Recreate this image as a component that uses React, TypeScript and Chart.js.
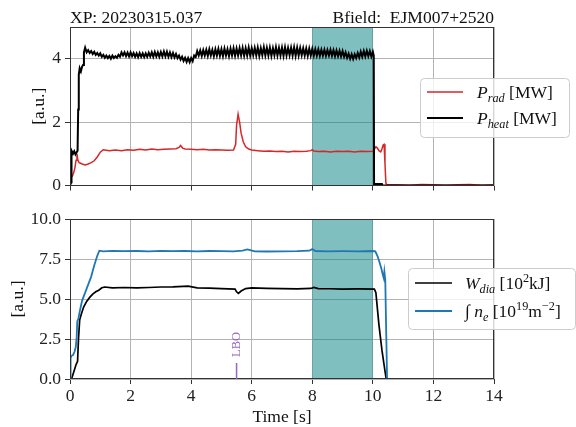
import { useEffect, useRef } from "react";
import { Chart, registerables } from "chart.js";

Chart.register(...registerables);

const FONT = "'Liberation Serif', 'Times New Roman', serif";
const FS = 17.5;
const GRID = "rgba(176,176,176,0.95)";
const AXIS = "#333333";

const xTicks = [0, 2, 4, 6, 8, 10, 12, 14];
const topYTicks = [0, 2, 4];
const bottomYTicks = [0, 2.5, 5, 7.5, 10];
const shadeRange = [8, 10];
const lboTime = 5.5;
const lboHeight = 1.0;

const titleLeft = "XP: 20230315.037";
const titleRight = "Bfield:  EJM007+2520";

// [time s, value]
const pHeat: [number, number][] = [
  [0, 0], [0.04, 0.1], [0.05, 1.1], [0.1, 1.0], [0.14, 1.08], [0.18, 0.98], [0.22, 1.05], [0.25, 1.1],
  [0.27, 2.4], [0.29, 3.5], [0.32, 3.7], [0.36, 3.6], [0.4, 3.75], [0.43, 3.8], [0.46, 4.2], [0.5, 4.35],
  [0.55, 4.2],
  [0.6, 4.27], [0.65, 4.18], [0.7, 4.24], [0.75, 4.15], [0.8, 4.22], [0.85, 4.12], [0.9, 4.18], [0.95, 4.1], [1.0, 4.17], [1.05, 4.06],
  [1.1, 4.12], [1.15, 4.03], [1.2, 4.1], [1.25, 4.02], [1.3, 4.09], [1.35, 4.0], [1.4, 4.1], [1.45, 4.02], [1.5, 4.08], [1.55, 4.03],
  [1.6, 4.12], [1.65, 4.06], [1.7, 4.2], [1.75, 4.1], [1.8, 4.2], [1.85, 4.08], [1.9, 4.19], [1.95, 4.07], [2.0, 4.2], [2.05, 4.08],
  [2.1, 4.18], [2.15, 4.06], [2.2, 4.17], [2.25, 4.05], [2.3, 4.18], [2.35, 4.06], [2.4, 4.17], [2.45, 4.05], [2.5, 4.17], [2.55, 4.06],
  [2.6, 4.19], [2.65, 4.07], [2.7, 4.2], [2.75, 4.06], [2.8, 4.21], [2.85, 4.07], [2.9, 4.2], [2.95, 4.06], [3.0, 4.21], [3.05, 4.07],
  [3.1, 4.23], [3.15, 4.07], [3.2, 4.22], [3.25, 4.06], [3.3, 4.2], [3.35, 4.05], [3.4, 4.18], [3.45, 4.04], [3.5, 4.15], [3.55, 4.02],
  [3.6, 4.1], [3.65, 3.97], [3.7, 4.06], [3.75, 3.93], [3.8, 4.03], [3.85, 3.9], [3.9, 4.02], [3.95, 3.89], [4.0, 4.02], [4.05, 3.92],
  [4.1, 4.1], [4.15, 4.05], [4.2, 4.24], [4.25, 4.1], [4.3, 4.26], [4.35, 4.09], [4.4, 4.27], [4.45, 4.1], [4.5, 4.28], [4.55, 4.09],
  [4.6, 4.3], [4.65, 4.1], [4.7, 4.28], [4.75, 4.08], [4.8, 4.3], [4.85, 4.1], [4.9, 4.31], [4.95, 4.09], [5.0, 4.3], [5.05, 4.08],
  [5.1, 4.32], [5.15, 4.1], [5.2, 4.3], [5.25, 4.08], [5.3, 4.32], [5.35, 4.1], [5.4, 4.33], [5.45, 4.09], [5.5, 4.32], [5.55, 4.1],
  [5.6, 4.33], [5.65, 4.1], [5.7, 4.34], [5.75, 4.09], [5.8, 4.33], [5.85, 4.1], [5.9, 4.35], [5.95, 4.1], [6.0, 4.33], [6.05, 4.11],
  [6.1, 4.34], [6.15, 4.1], [6.2, 4.35], [6.25, 4.09], [6.3, 4.33], [6.35, 4.11], [6.4, 4.36], [6.45, 4.1], [6.5, 4.34], [6.55, 4.1],
  [6.6, 4.35], [6.65, 4.09], [6.7, 4.33], [6.75, 4.11], [6.8, 4.36], [6.85, 4.1], [6.9, 4.34], [6.95, 4.1], [7.0, 4.35], [7.05, 4.09],
  [7.1, 4.36], [7.15, 4.1], [7.2, 4.34], [7.25, 4.11], [7.3, 4.35], [7.35, 4.1], [7.4, 4.36], [7.45, 4.09], [7.5, 4.35], [7.55, 4.1],
  [7.6, 4.34], [7.65, 4.11], [7.7, 4.33], [7.75, 4.1], [7.8, 4.32], [7.85, 4.09], [7.9, 4.32], [7.95, 4.1], [8.0, 4.31], [8.05, 4.1],
  [8.1, 4.3], [8.15, 4.1], [8.2, 4.29], [8.25, 4.09], [8.3, 4.28], [8.35, 4.1], [8.4, 4.28], [8.45, 4.09], [8.5, 4.27], [8.55, 4.1],
  [8.6, 4.28], [8.65, 4.09], [8.7, 4.27], [8.75, 4.08], [8.8, 4.26], [8.85, 4.08], [8.9, 4.25], [8.95, 4.07], [9.0, 4.24], [9.05, 4.06],
  [9.1, 4.2], [9.15, 4.03], [9.2, 4.16], [9.25, 4.0], [9.3, 4.14], [9.35, 3.99], [9.4, 4.14], [9.45, 4.02], [9.5, 4.18], [9.55, 4.04],
  [9.6, 4.22], [9.65, 4.06], [9.7, 4.24], [9.75, 4.07], [9.8, 4.25], [9.85, 4.08], [9.9, 4.24], [9.95, 4.07], [10.0, 4.22], [10.03, 4.1],
  [10.04, 0.05], [10.3, 0.05], [10.32, 0], [14, 0],
];

const pRad: [number, number][] = [
  [0, 0], [0.04, 0.25], [0.08, 0.3], [0.12, 0.4], [0.16, 0.55], [0.2, 0.8], [0.23, 1.0], [0.26, 0.8],
  [0.3, 0.72], [0.35, 0.7], [0.4, 0.68], [0.5, 0.65], [0.6, 0.68], [0.7, 0.72], [0.8, 0.78], [0.9, 0.9],
  [1.0, 1.05], [1.1, 1.13], [1.3, 1.1], [1.5, 1.12], [1.7, 1.1], [1.9, 1.13], [2.1, 1.11], [2.3, 1.14],
  [2.5, 1.12], [2.7, 1.15], [2.9, 1.13], [3.1, 1.14], [3.3, 1.15], [3.5, 1.16], [3.6, 1.2], [3.65, 1.26],
  [3.72, 1.18], [3.8, 1.15], [4.0, 1.14], [4.2, 1.13], [4.4, 1.14], [4.6, 1.12], [4.8, 1.13], [5.0, 1.12],
  [5.2, 1.11], [5.4, 1.12], [5.47, 1.3], [5.5, 1.9], [5.55, 2.25], [5.6, 2.0], [5.65, 1.65], [5.72, 1.38],
  [5.8, 1.22], [5.9, 1.15], [6.0, 1.12], [6.2, 1.1], [6.4, 1.08], [6.6, 1.09], [6.8, 1.07], [7.0, 1.08],
  [7.2, 1.06], [7.4, 1.08], [7.6, 1.07], [7.8, 1.08], [7.95, 1.1], [8.0, 1.13], [8.05, 1.09], [8.2, 1.07],
  [8.4, 1.08], [8.6, 1.06], [8.8, 1.08], [9.0, 1.07], [9.2, 1.08], [9.4, 1.06], [9.6, 1.08], [9.8, 1.07],
  [10.0, 1.08], [10.05, 1.15], [10.1, 1.22], [10.15, 1.18], [10.2, 1.1], [10.26, 1.06], [10.3, 1.15],
  [10.34, 1.28], [10.37, 1.3], [10.4, 0.7], [10.43, 0.08], [10.46, 0.03], [10.8, 0.02], [11.2, 0.01],
  [11.6, 0.03], [12.0, 0.02], [12.4, 0.01], [12.8, 0.02], [13.2, 0.03], [13.6, 0.01], [14, 0.02],
];

const wDia: [number, number][] = [
  [0, 0], [0.05, 0], [0.1, 0.3], [0.15, 0.6], [0.2, 0.9], [0.25, 1.1], [0.28, 2.5], [0.32, 3.7],
  [0.38, 4.1], [0.45, 4.5], [0.55, 4.85], [0.65, 5.1], [0.75, 5.3], [0.85, 5.45], [0.95, 5.55],
  [1.05, 5.7], [1.15, 5.75], [1.4, 5.7], [1.8, 5.72], [2.2, 5.7], [2.6, 5.72], [3.0, 5.75], [3.4, 5.76],
  [3.9, 5.8], [4.2, 5.7], [4.6, 5.68], [5.0, 5.65], [5.45, 5.62], [5.5, 5.45], [5.56, 5.35], [5.65, 5.5],
  [5.8, 5.65], [6.0, 5.7], [6.5, 5.67], [7.0, 5.65], [7.5, 5.63], [7.95, 5.66], [8.05, 5.72], [8.2, 5.65],
  [8.6, 5.64], [9.0, 5.62], [9.5, 5.63], [10.05, 5.62], [10.1, 5.4], [10.2, 3.4], [10.3, 1.8], [10.4, 0.5],
  [10.44, 0], [14, 0],
];

const neInt: [number, number][] = [
  [0, 0], [0.02, 1.3], [0.05, 1.45], [0.1, 1.5], [0.15, 1.7], [0.19, 2.0], [0.22, 2.6], [0.24, 3.6],
  [0.28, 3.8], [0.33, 4.3], [0.4, 4.9], [0.5, 5.4], [0.6, 5.9], [0.7, 6.4], [0.8, 7.1], [0.9, 7.7],
  [0.97, 8.02], [1.1, 7.98], [1.4, 8.01], [1.8, 7.99], [2.2, 8.0], [2.6, 7.98], [3.0, 8.01], [3.4, 7.99],
  [3.8, 8.0], [4.2, 7.98], [4.6, 8.0], [5.0, 7.99], [5.4, 7.98], [5.7, 8.02], [5.85, 8.1], [5.95, 8.06],
  [6.1, 7.98], [6.5, 7.97], [7.0, 7.98], [7.5, 7.99], [7.9, 8.02], [8.0, 8.12], [8.1, 8.0], [8.5, 7.98],
  [9.0, 7.99], [9.5, 7.98], [10.0, 8.0], [10.08, 7.98], [10.15, 7.7], [10.22, 7.3], [10.28, 6.9],
  [10.33, 6.5], [10.36, 6.3], [10.38, 6.7], [10.41, 6.2], [10.44, 3.0], [10.47, 0], [14, 0],
];

type Part = [string, "n" | "i", "b" | "sub" | "sup"];

function drawRich(ctx: CanvasRenderingContext2D, x: number, y: number, parts: Part[]) {
  let cx = x;
  ctx.textAlign = "left";
  ctx.textBaseline = "alphabetic";
  for (const [t, st, pos] of parts) {
    const s = pos === "b" ? FS : FS * 0.7;
    ctx.font = `${st === "i" ? "italic " : ""}${s}px ${FONT}`;
    const dy = pos === "sub" ? FS * 0.22 : pos === "sup" ? -FS * 0.38 : 0;
    ctx.fillText(t, cx, y + dy);
    cx += ctx.measureText(t).width;
  }
}

function drawLegend(
  ctx: CanvasRenderingContext2D,
  box: [number, number, number, number],
  lineX: [number, number],
  textX: number,
  rows: { y: number; color: string; width: number; parts: Part[] }[]
) {
  ctx.save();
  ctx.beginPath();
  ctx.roundRect(box[0] + 0.5, box[1] + 0.5, box[2], box[3], 4);
  ctx.fillStyle = "rgba(255,255,255,0.8)";
  ctx.fill();
  ctx.strokeStyle = "#cccccc";
  ctx.lineWidth = 1;
  ctx.stroke();
  for (const r of rows) {
    ctx.beginPath();
    ctx.moveTo(lineX[0], r.y);
    ctx.lineTo(lineX[1], r.y);
    ctx.strokeStyle = r.color;
    ctx.lineWidth = r.width;
    ctx.stroke();
    ctx.fillStyle = "#111";
    drawRich(ctx, textX, r.y + 6, r.parts);
  }
  ctx.restore();
}

function shadeFramePlugin(extra: (chart: any) => void) {
  return {
    id: "shadeFrame",
    beforeDatasetsDraw(chart: any) {
      const { ctx, chartArea: a, scales } = chart;
      const x0 = scales.x.getPixelForValue(shadeRange[0]);
      const x1 = scales.x.getPixelForValue(shadeRange[1]);
      ctx.save();
      ctx.fillStyle = "rgba(0,128,128,0.5)";
      ctx.fillRect(x0, a.top, x1 - x0, a.bottom - a.top);
      ctx.restore();
    },
    afterDatasetsDraw(chart: any) {
      const { ctx, chartArea: a } = chart;
      ctx.save();
      ctx.strokeStyle = AXIS;
      ctx.lineWidth = 1;
      ctx.strokeRect(Math.round(a.left) + 0.5, Math.round(a.top) + 0.5, Math.round(a.right - a.left) - 1, Math.round(a.bottom - a.top) - 1);
      ctx.restore();
    },
    afterDraw(chart: any) {
      extra(chart);
    },
  };
}

function xScale(showLabels: boolean, height: number) {
  return {
    type: "linear" as const,
    min: 0,
    max: 14,
    afterBuildTicks: (a: any) => {
      a.ticks = xTicks.map((v) => ({ value: v }));
    },
    afterFit: (a: any) => {
      a.height = height;
    },
    grid: { color: GRID, lineWidth: 1, tickColor: AXIS, tickLength: 5, tickWidth: 1 },
    border: { display: false },
    ticks: {
      display: showLabels,
      color: "#222",
      font: { family: FONT, size: FS },
      padding: 2,
      maxRotation: 0,
      callback: (v: any) => String(v),
    },
  };
}

function yScale(min: number, max: number, ticks: number[], fmt: (v: number) => string) {
  return {
    type: "linear" as const,
    min,
    max,
    afterBuildTicks: (a: any) => {
      a.ticks = ticks.map((v) => ({ value: v }));
    },
    afterFit: (a: any) => {
      a.width = 70;
    },
    grid: { color: GRID, lineWidth: 1, tickColor: AXIS, tickLength: 5, tickWidth: 1 },
    border: { display: false },
    ticks: {
      color: "#222",
      font: { family: FONT, size: FS },
      padding: 4,
      callback: (v: any) => fmt(Number(v)),
    },
  };
}

function series(pairs: [number, number][], color: string, width: number, order: number) {
  return {
    data: pairs.map(([x, y]) => ({ x, y })),
    borderColor: color,
    borderWidth: width,
    pointRadius: 0,
    tension: 0,
    fill: false,
    order,
  };
}

function drawYTitle(ctx: CanvasRenderingContext2D, x: number, y: number) {
  ctx.save();
  ctx.translate(x, y);
  ctx.rotate(-Math.PI / 2);
  ctx.font = `${FS}px ${FONT}`;
  ctx.fillStyle = "#111";
  ctx.textAlign = "center";
  ctx.textBaseline = "middle";
  ctx.fillText("[a.u.]", 0, 0);
  ctx.restore();
}

export default function App() {
  const topRef = useRef<HTMLCanvasElement>(null);
  const botRef = useRef<HTMLCanvasElement>(null);

  useEffect(() => {
    const topChart = new Chart(topRef.current!, {
      type: "line",
      data: {
        datasets: [
          series(pRad, "#d62728", 1.5, 1) as any,
          series(pHeat, "#000000", 2, 0) as any,
        ],
      },
      options: {
        responsive: false,
        devicePixelRatio: 1,
        animation: false,
        layout: { padding: { left: 0, right: 82, top: 27, bottom: 0 } },
        plugins: { legend: { display: false }, tooltip: { enabled: false } },
        scales: {
          x: xScale(false, 13) as any,
          y: yScale(0, 5, topYTicks, (v) => String(v)) as any,
        },
      },
      plugins: [
        shadeFramePlugin((chart) => {
          const { ctx, chartArea: a } = chart;
          ctx.save();
          ctx.font = `${FS}px ${FONT}`;
          ctx.fillStyle = "#111";
          ctx.textBaseline = "alphabetic";
          ctx.textAlign = "left";
          ctx.fillText(titleLeft, a.left, 23);
          ctx.textAlign = "right";
          ctx.fillText(titleRight, a.right, 23);
          ctx.restore();
          drawYTitle(ctx, 39, (a.top + a.bottom) / 2);
          drawLegend(ctx, [420, 78, 149, 59], [427, 463], 477, [
            { y: 92, color: "#d62728", width: 1.5, parts: [["P", "i", "b"], ["rad", "i", "sub"], [" [MW]", "n", "b"]] },
            { y: 118, color: "#000000", width: 2.2, parts: [["P", "i", "b"], ["heat", "i", "sub"], [" [MW]", "n", "b"]] },
          ]);
        }),
      ],
    });

    const botChart = new Chart(botRef.current!, {
      type: "line",
      data: {
        datasets: [
          series(wDia, "#000000", 1.7, 1) as any,
          series(neInt, "#1f77b4", 1.8, 0) as any,
        ],
      },
      options: {
        responsive: false,
        devicePixelRatio: 1,
        animation: false,
        layout: { padding: { left: 0, right: 82, top: 19, bottom: 0 } },
        plugins: { legend: { display: false }, tooltip: { enabled: false } },
        scales: {
          x: xScale(true, 48) as any,
          y: yScale(0, 10, bottomYTicks, (v) => v.toFixed(1)) as any,
        },
      },
      plugins: [
        shadeFramePlugin((chart) => {
          const { ctx, chartArea: a, scales } = chart;
          const lx = scales.x.getPixelForValue(lboTime);
          const y0 = scales.y.getPixelForValue(0);
          const y1 = scales.y.getPixelForValue(lboHeight);
          ctx.save();
          ctx.strokeStyle = "#9467bd";
          ctx.lineWidth = 1.5;
          ctx.beginPath();
          ctx.moveTo(lx, y0);
          ctx.lineTo(lx, y1);
          ctx.stroke();
          ctx.translate(lx, y1 - 6);
          ctx.rotate(-Math.PI / 2);
          ctx.font = `12.5px ${FONT}`;
          ctx.fillStyle = "#9467bd";
          ctx.textAlign = "left";
          ctx.textBaseline = "middle";
          ctx.fillText("LBO", 0, 0);
          ctx.restore();

          drawYTitle(ctx, 18, (a.top + a.bottom) / 2);
          ctx.save();
          ctx.font = `${FS}px ${FONT}`;
          ctx.fillStyle = "#111";
          ctx.textAlign = "center";
          ctx.textBaseline = "middle";
          ctx.fillText("Time [s]", (a.left + a.right) / 2, 217);
          ctx.restore();

          drawLegend(ctx, [408, 68, 167, 61], [415, 452], 465, [
            {
              y: 83, color: "#000000", width: 1.7,
              parts: [["W", "i", "b"], ["dia", "i", "sub"], [" [10", "n", "b"], ["2", "n", "sup"], ["kJ]", "n", "b"]],
            },
            {
              y: 111, color: "#1f77b4", width: 1.8,
              parts: [["\u222B ", "n", "b"], ["n", "i", "b"], ["e", "i", "sub"], [" [10", "n", "b"], ["19", "n", "sup"], ["m", "n", "b"], ["\u22122", "n", "sup"], ["]", "n", "b"]],
            },
          ]);
        }),
      ],
    });

    return () => {
      topChart.destroy();
      botChart.destroy();
    };
  }, []);

  return (
    <div style={{ position: "absolute", left: 0, top: 0, width: 576, height: 427, background: "#fff" }}>
      <canvas ref={topRef} width={576} height={200} style={{ position: "absolute", left: 0, top: 0, width: 576, height: 200, display: "block" }} />
      <canvas ref={botRef} width={576} height={227} style={{ position: "absolute", left: 0, top: 200, width: 576, height: 227, display: "block" }} />
    </div>
  );
}
